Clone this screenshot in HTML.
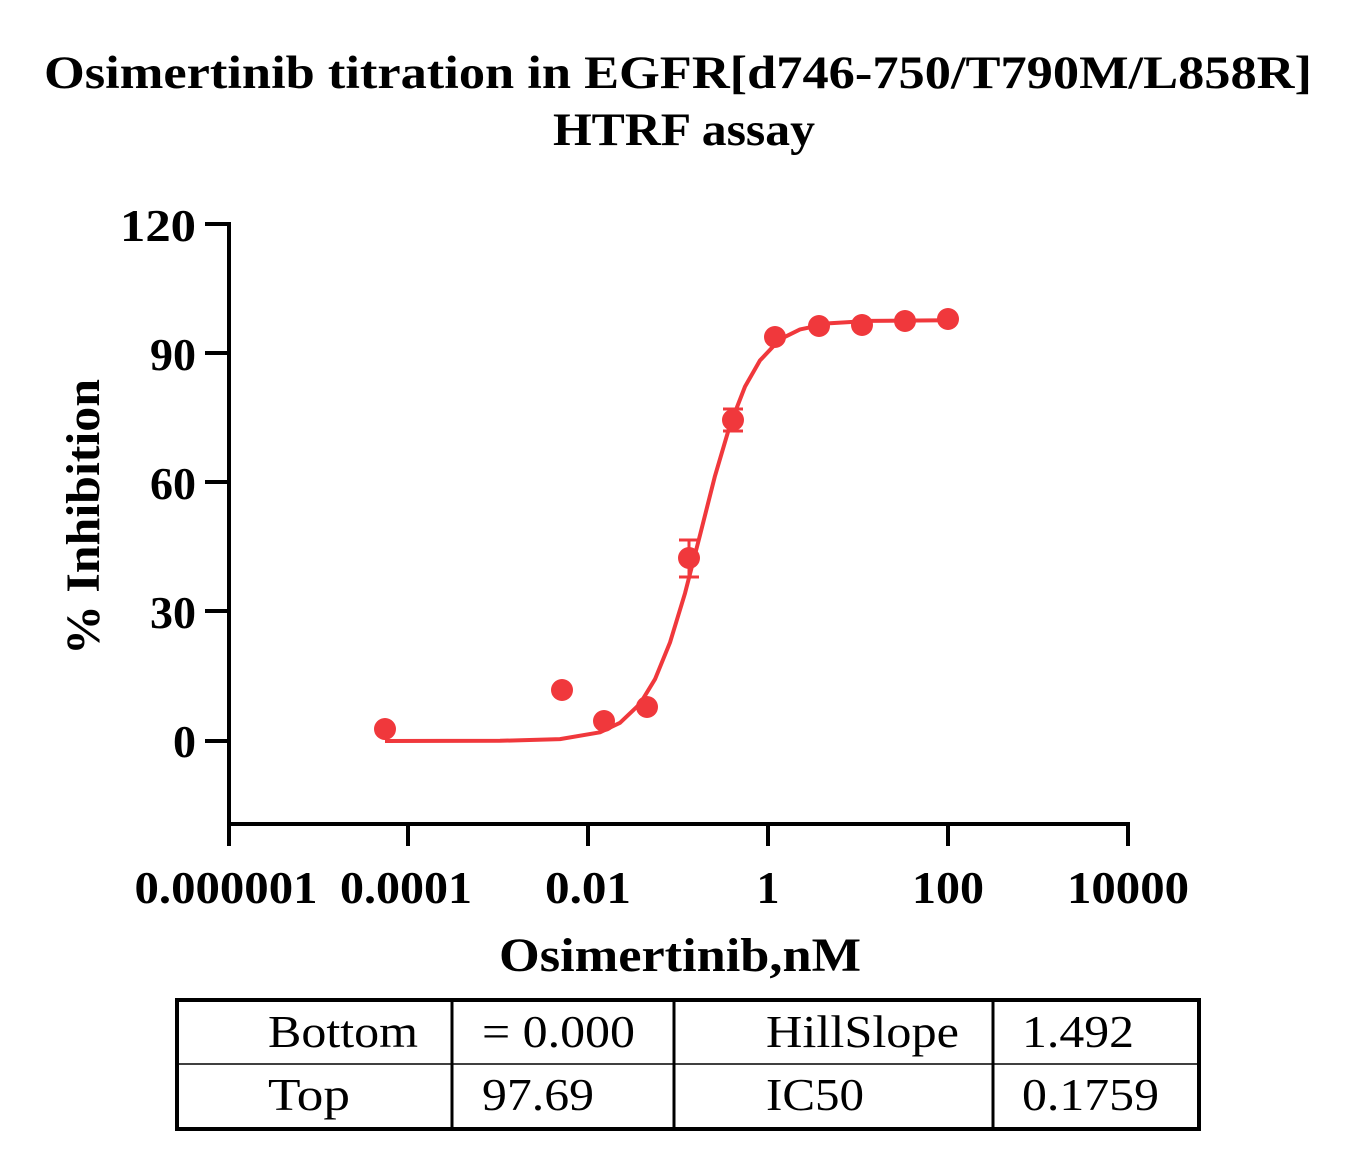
<!DOCTYPE html>
<html><head><meta charset="utf-8"><style>
body{margin:0;background:#fff;}
svg{display:block;font-family:"Liberation Serif",serif;}
</style></head><body>
<svg width="1359" height="1158" viewBox="0 0 1359 1158" xmlns="http://www.w3.org/2000/svg">
<rect width="1359" height="1158" fill="#fff"/>
<g font-weight="bold" font-size="47" text-anchor="middle" fill="#000">
<text x="678" y="88" textLength="1268" lengthAdjust="spacingAndGlyphs">Osimertinib titration in EGFR[d746-750/T790M/L858R]</text>
<text x="684" y="145" textLength="262" lengthAdjust="spacingAndGlyphs">HTRF assay</text>
</g>
<g stroke="#000" stroke-width="4" fill="none">
<line x1="229" y1="222" x2="229" y2="826"/>
<line x1="227" y1="824" x2="1130" y2="824"/>
<line x1="205" y1="224" x2="229" y2="224"/>
<line x1="205" y1="353" x2="229" y2="353"/>
<line x1="205" y1="482" x2="229" y2="482"/>
<line x1="205" y1="611" x2="229" y2="611"/>
<line x1="205" y1="741" x2="229" y2="741"/>
<line x1="229" y1="824" x2="229" y2="846"/>
<line x1="408" y1="824" x2="408" y2="846"/>
<line x1="588" y1="824" x2="588" y2="846"/>
<line x1="768" y1="824" x2="768" y2="846"/>
<line x1="948" y1="824" x2="948" y2="846"/>
<line x1="1128" y1="824" x2="1128" y2="846"/>
</g>
<g font-weight="bold" font-size="46" text-anchor="end" fill="#000">
<text x="196" y="241" textLength="76" lengthAdjust="spacingAndGlyphs">120</text>
<text x="196" y="370">90</text>
<text x="196" y="499">60</text>
<text x="196" y="628">30</text>
<text x="196" y="757">0</text>
</g>
<g font-weight="bold" font-size="46" text-anchor="middle" fill="#000">
<text x="226" y="903" textLength="183" lengthAdjust="spacingAndGlyphs">0.000001</text>
<text x="406" y="903" textLength="132" lengthAdjust="spacingAndGlyphs">0.0001</text>
<text x="588" y="903" textLength="86" lengthAdjust="spacingAndGlyphs">0.01</text>
<text x="768" y="903">1</text>
<text x="948" y="903" textLength="72" lengthAdjust="spacingAndGlyphs">100</text>
<text x="1128" y="903" textLength="122" lengthAdjust="spacingAndGlyphs">10000</text>
<text x="680" y="971" font-size="48" textLength="362" lengthAdjust="spacingAndGlyphs">Osimertinib,nM</text>
<text transform="translate(99,517) rotate(-90)" font-size="48" textLength="276" lengthAdjust="spacingAndGlyphs">% Inhibition</text>
</g>
<polyline fill="none" stroke="#f0383c" stroke-width="4" stroke-linejoin="round" points="385,741 500,740.8 560,739.1 600,732.3 620,722.8 640,703.8 655,679.2 670,642.5 685,593.3 700,535.1 715,475.9 730,425.1 745,386.6 760,360.4 780,339.3 800,329.4 830,323.2 870,320.9 948,320.3"/>
<g stroke="#f0383c" stroke-width="3">
<line x1="689" y1="540" x2="689" y2="577"/><line x1="679" y1="540" x2="699" y2="540"/><line x1="679" y1="577" x2="699" y2="577"/>
<line x1="733" y1="409" x2="733" y2="431"/><line x1="723" y1="409" x2="743" y2="409"/><line x1="723" y1="431" x2="743" y2="431"/>
</g>
<g fill="#f0383c">
<circle cx="385" cy="729" r="11"/><circle cx="562" cy="690" r="11"/><circle cx="604" cy="721" r="11"/>
<circle cx="647" cy="707" r="11"/><circle cx="689" cy="558" r="11"/><circle cx="733" cy="420" r="11"/>
<circle cx="775" cy="337" r="11"/><circle cx="819" cy="326" r="11"/><circle cx="862" cy="325" r="11"/>
<circle cx="905" cy="321" r="11"/><circle cx="948" cy="319" r="11"/>
</g>
<g stroke="#000" fill="none">
<rect x="177" y="1000" width="1022" height="129" stroke-width="4"/>
<line x1="452" y1="1000" x2="452" y2="1129" stroke-width="3"/>
<line x1="674" y1="1000" x2="674" y2="1129" stroke-width="3"/>
<line x1="993" y1="1000" x2="993" y2="1129" stroke-width="3"/>
<line x1="177" y1="1064" x2="1199" y2="1064" stroke-width="1.5"/>
</g>
<g font-size="46" fill="#000">
<text x="268" y="1047" textLength="150" lengthAdjust="spacingAndGlyphs">Bottom</text>
<text x="482" y="1047" textLength="153" lengthAdjust="spacingAndGlyphs">= 0.000</text>
<text x="766" y="1047" textLength="193" lengthAdjust="spacingAndGlyphs">HillSlope</text>
<text x="1022" y="1047" textLength="112" lengthAdjust="spacingAndGlyphs">1.492</text>
<text x="268" y="1110" textLength="82" lengthAdjust="spacingAndGlyphs">Top</text>
<text x="482" y="1110" textLength="112" lengthAdjust="spacingAndGlyphs">97.69</text>
<text x="766" y="1110" textLength="98" lengthAdjust="spacingAndGlyphs">IC50</text>
<text x="1022" y="1110" textLength="137" lengthAdjust="spacingAndGlyphs">0.1759</text>
</g>
</svg>
</body></html>
